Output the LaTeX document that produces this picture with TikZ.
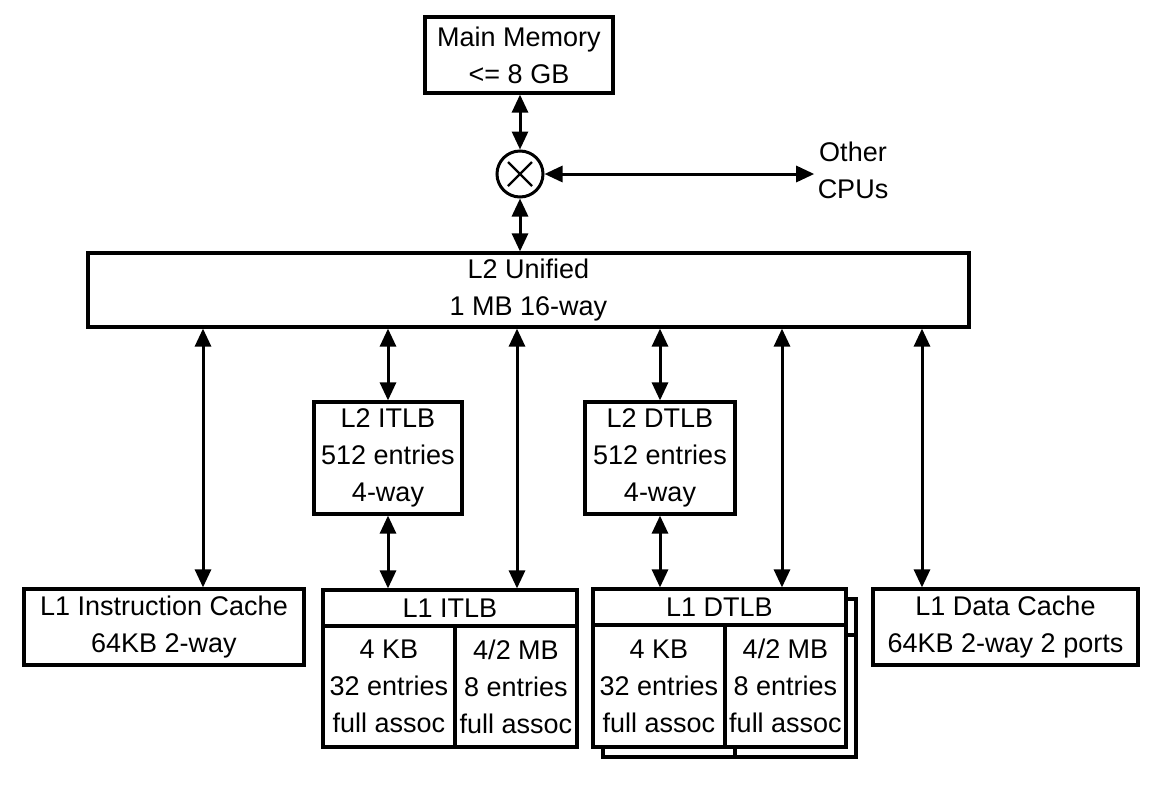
\documentclass[tikz,border=0pt]{standalone}
\usepackage{fontspec}
\setmainfont{Liberation Sans}
\usetikzlibrary{arrows.meta,calc}
\begin{document}
\begin{tikzpicture}[x=1pt,y=-1pt,
  box/.style={draw, line width=3.2pt, inner sep=0pt, align=center, fill=white,
              font=\fontsize{27}{37}\selectfont},
  bi/.style={line width=3pt,
             {Triangle[length=18pt,width=16pt]}-{Triangle[length=18pt,width=16pt]}},
  txt/.style={align=center, font=\fontsize{27}{37}\selectfont}]
\useasboundingbox[fill=white] (0,0) rectangle (1163,788);

% top
\node[box, minimum width=188, minimum height=76] (mm) at (519,55) {Main Memory\\<= 8 GB};
\node[draw, circle, line width=3pt, minimum size=46, inner sep=0pt] (x) at (520,174) {};
\draw[line width=2.4pt] ($(x)+(-12,-12)$) -- ($(x)+(12,12)$);
\draw[line width=2.4pt] ($(x)+(-12,12)$) -- ($(x)+(12,-12)$);
\node[txt] (cpus) at (853,170) {Other\\CPUs};

% L2
\node[box, minimum width=881, minimum height=74] (l2) at (528.5,290) {L2 Unified\\1 MB 16-way};
\node[box, minimum width=148, minimum height=112] (i2) at (388,458) {L2 ITLB\\512 entries\\4-way};
\node[box, minimum width=150, minimum height=112] (d2) at (660,458) {L2 DTLB\\512 entries\\4-way};

% L1 caches
\node[box, minimum width=280, minimum height=76] (l1i) at (164,627) {L1 Instruction Cache\\64KB 2-way};
\node[box, minimum width=265, minimum height=76] (l1d) at (1005.5,627) {L1 Data Cache\\64KB 2-way 2 ports};

% L1 ITLB
\node[box, minimum width=254, minimum height=36] (ith) at (450,608) {L1 ITLB};
\node[box, minimum width=132, minimum height=121] (ita) at (389,686.5) {4 KB\\32 entries\\full assoc};
\node[box, minimum width=122, minimum height=121] (itb) at (516,686.5) {4/2 MB\\8 entries\\full assoc};

% L1 DTLB shadow copy
\node[box, minimum width=253, minimum height=36] (sdh) at (729.5,617) {};
\node[box, minimum width=132, minimum height=122] (sda) at (669,696) {};
\node[box, minimum width=121, minimum height=122] (sdb) at (795.5,696) {};
% L1 DTLB
\node[box, minimum width=253, minimum height=36] (dth) at (719.5,607) {L1 DTLB};
\node[box, minimum width=132, minimum height=122] (dta) at (659,686) {4 KB\\32 entries\\full assoc};
\node[box, minimum width=121, minimum height=122] (dtb) at (785.5,686) {4/2 MB\\8 entries\\full assoc};

% connector x positions
\coordinate (xa) at (203,0);
\coordinate (xb) at (517,0);
\coordinate (xc) at (782,0);
\coordinate (xd) at (922,0);

% connectors
\draw[bi] (mm.south -| x) -- (x.north);
\draw[bi] (x.south) -- (l2.north -| x);
\draw[bi] (x.east) -- (cpus.west |- x);
\draw[bi] (l2.south -| xa) -- (l1i.north -| xa);
\draw[bi] (l2.south -| i2) -- (i2.north);
\draw[bi] (i2.south) -- (ith.north -| i2);
\draw[bi] (l2.south -| xb) -- (ith.north -| xb);
\draw[bi] (l2.south -| d2) -- (d2.north);
\draw[bi] (d2.south) -- (dth.north -| d2);
\draw[bi] (l2.south -| xc) -- (dth.north -| xc);
\draw[bi] (l2.south -| xd) -- (l1d.north -| xd);
\end{tikzpicture}
\end{document}
